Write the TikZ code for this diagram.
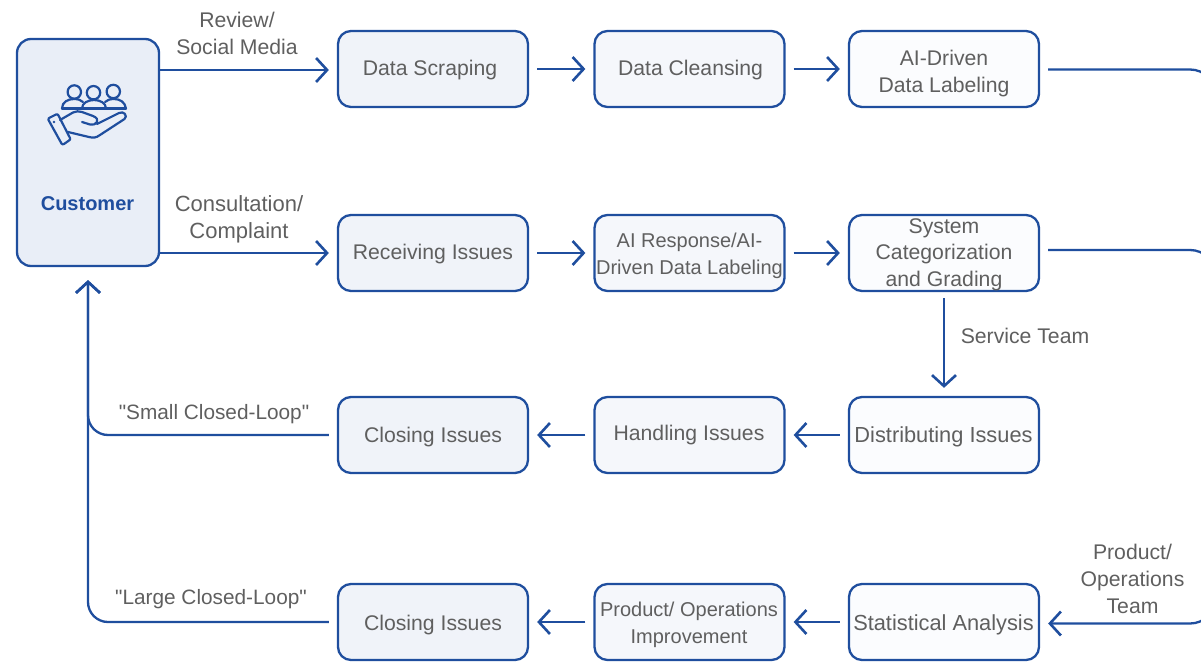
\documentclass[tikz,border=0pt]{standalone}
\usepackage{fontspec}
\setmainfont{Liberation Sans}[Ligatures=TeXOff]
\definecolor{lnblue}{HTML}{1F4E9E}
\definecolor{txtgray}{HTML}{5F5F5F}
\definecolor{custfill}{HTML}{E9EEF7}
\definecolor{softfill}{HTML}{F0F3F9}
\definecolor{midfill}{HTML}{F5F7FB}
\definecolor{paleblue}{HTML}{FBFCFE}
\usetikzlibrary{arrows.meta,calc}
\tikzset{
  x=1pt,y=-1pt,
  procbox/.style={draw=lnblue,line width=2.3pt,rounded corners=13pt,minimum width=190pt,minimum height=76pt,inner sep=0pt},
  softbox/.style={procbox,fill=softfill},
  midbox/.style={procbox,fill=midfill},
  plainbox/.style={procbox,fill=paleblue},
  boxtext/.style={font=\fontsize{21.2}{26.7}\selectfont,text=txtgray,align=center,inner sep=0pt},
  flow/.style={draw=lnblue,line width=2.3pt,-{Straight Barb[length=11pt,width=24pt,line width=2.6pt]}},
  flowline/.style={draw=lnblue,line width=2.3pt},
  lab/.style={font=\fontsize{21.2}{27}\selectfont,text=txtgray,align=center,inner sep=0pt},
  icon/.style={draw=lnblue,line width=2.2pt,line join=round,line cap=round},
}
\begin{document}
\begin{tikzpicture}
\useasboundingbox (0,0) rectangle (1201,661);
\clip (0,0) rectangle (1201,661);
\node[draw=lnblue,line width=2.3pt,rounded corners=14pt,fill=custfill,minimum width=142pt,minimum height=227pt,inner sep=0pt] (cust) at (88,152.5) {};
\node[font=\fontsize{20}{24}\selectfont\bfseries,text=lnblue,inner sep=0pt] (custlab) at (87.5,203.5) {Customer};
% icon
\draw[icon] (74.3,92) circle (6.7);
\draw[icon] (93.5,92.7) circle (6.7);
\draw[icon] (113.3,91.5) circle (6.7);
\draw[icon] (62,108.5) .. controls (62,102) and (68,99) .. (74,99) .. controls (78,99) and (81,100) .. (83,102);
\draw[icon] (105,102) .. controls (107,100) and (110,99) .. (114,99) .. controls (120,99) and (125,102) .. (126,108.5);
\draw[icon] (82,108.5) .. controls (82,103) and (88,100) .. (94,100) .. controls (100,100) and (106,103) .. (106,108.5);
\draw[icon] (62,108.5) -- (126,108.5);
\draw[icon] (48.5,120) .. controls (48,118.5) and (49,118) .. (50,117.5) -- (56,114.5) .. controls (57,114) and (58,114.5) .. (58.5,115.5) -- (70,138) .. controls (70.5,139) and (70,140) .. (69,140.5) -- (64,144) .. controls (63,144.5) and (62,144.5) .. (61.5,143.5) -- cycle;
\fill[lnblue] (54,122) circle (1.3);
\draw[icon] (60,120) -- (73,112.5) .. controls (76,111) and (79,111) .. (82,112) -- (93,116) .. controls (97,117.5) and (98,120) .. (97,122) .. controls (96,124.5) and (93,125) .. (90,124.5) -- (82,122);
\draw[icon] (97,124) -- (119,113) .. controls (124,110.5) and (128,116) .. (124.5,119) -- (100,135) .. controls (96,138) and (93,138) .. (89,137) -- (68,132);

\node[softbox] (scrape) at (433,69) {};
\node[midbox] (cleanse) at (689.5,69) {};
\node[plainbox] (label) at (944,69) {};
\node[softbox] (receive) at (433,253) {};
\node[midbox] (respond) at (689.5,253) {};
\node[plainbox] (grade) at (944,253) {};
\node[softbox] (close1) at (433,435) {};
\node[midbox] (handle) at (689.5,435) {};
\node[plainbox] (distrib) at (944,435) {};
\node[softbox] (close2) at (433,622) {};
\node[midbox] (improve) at (689.5,622) {};
\node[plainbox] (stats) at (944,622) {};

\node[boxtext] (scrapet) at (430,70) {Data Scraping};
\node[boxtext] (cleanset) at (690.5,70) {Data Cleansing};
\node[boxtext] (labelt) at (944,73.5) {AI-Driven\\Data Labeling};
\node[boxtext] (receivet) at (433,254) {Receiving Issues};
\node[boxtext,font=\fontsize{20}{26.7}\selectfont] (respondt) at (689.5,255.5) {AI Response/AI-\\Driven Data Labeling};
\node[boxtext] (gradet) at (944,254.5) {System\\Categorization\\and Grading};
\node[boxtext] (close1t) at (433,437) {Closing Issues};
\node[boxtext] (handlet) at (689,435) {Handling Issues};
\node[boxtext,font=\fontsize{21.8}{26.7}\selectfont] (distribt) at (943.5,437) {Distributing Issues};
\node[boxtext] (close2t) at (433,625) {Closing Issues};
\node[boxtext,font=\fontsize{20}{26.7}\selectfont] (improvet) at (689,625) {Product/ Operations\\Improvement};
\node[boxtext,font=\fontsize{21.8}{26.7}\selectfont] (statst) at (943.5,625) {Statistical Analysis};

\draw[flow,shorten >=8pt] (cust.east |- scrape.west) ++(0,1) -- ($(scrape.west)+(0,1)$);
\draw[flow,shorten >=8pt] (cust.east |- receive.west) -- (receive.west);
\draw[flow,shorten <=8pt,shorten >=8pt] (scrape) -- (cleanse);
\draw[flow,shorten <=8pt,shorten >=8pt] (cleanse) -- (label);
\draw[flow,shorten <=8pt,shorten >=8pt] (receive) -- (respond);
\draw[flow,shorten <=8pt,shorten >=8pt] (respond) -- (grade);
\draw[flow,shorten <=6pt,shorten >=8pt] (grade) -- (distrib);
\draw[flow,shorten <=8pt,shorten >=8pt] (distrib) -- (handle);
\draw[flow,shorten <=8pt,shorten >=8pt] (handle) -- (close1);
\draw[flow,shorten <=8pt,shorten >=8pt] (stats) -- (improve);
\draw[flow,shorten <=8pt,shorten >=8pt] (improve) -- (close2);

\coordinate (railtop) at (1216,69.5);
\coordinate (railmid) at (1216,250);
\coordinate (railbot) at (1216,623.5);
\draw[flowline,rounded corners=26pt,shorten <=8pt] (label.east |- railtop) -- (railtop) -- (railmid);
\draw[flowline,rounded corners=26pt,shorten <=8pt] (grade.east |- railmid) -- (railmid) -- (railbot);
\draw[flow,rounded corners=26pt,shorten >=8pt] (railmid) -- (railbot) -- (stats.east |- railbot);
\draw[flow,rounded corners=20pt,shorten <=8pt,shorten >=13pt] (close1.west) -- (cust.south |- close1.west) -- (cust.south);
\draw[flow,rounded corners=20pt,shorten <=8pt,shorten >=13pt] (close2.west) -- (cust.south |- close2.west) -- (cust.south);

\node[lab] (l1) at (237,33) {Review/\\Social Media};
\node[lab,font=\fontsize{22}{27}\selectfont] (l2) at (239,219) {Consultation/\\Complaint};
\node[lab] (l3) at (1025,336) {Service Team};
\node[lab,font=\fontsize{20.8}{27}\selectfont] (l4) at (214,414.5) {"Small Closed-Loop"};
\node[lab,font=\fontsize{20.8}{27}\selectfont] (l5) at (211,599) {"Large Closed-Loop"};
\node[lab] (l6) at (1132.5,578.5) {Product/\\Operations\\Team};
\end{tikzpicture}
\end{document}
